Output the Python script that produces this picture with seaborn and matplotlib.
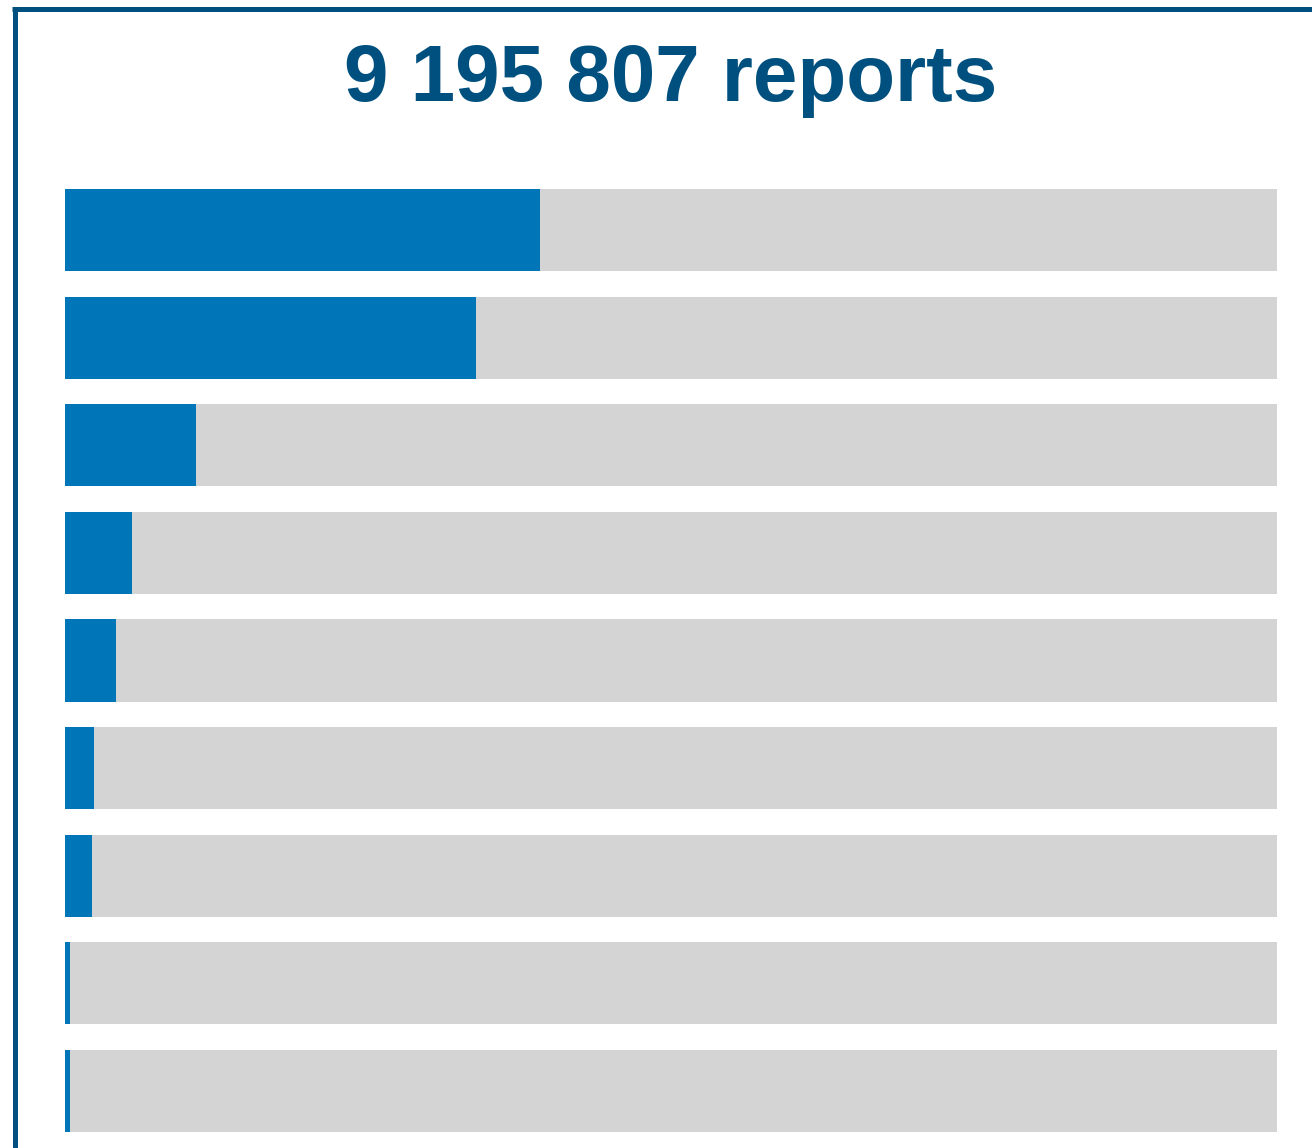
import matplotlib
matplotlib.use("Agg")
import matplotlib.pyplot as plt
import seaborn as sns
import pandas as pd
from matplotlib.lines import Line2D

# Data
categories = ["A", "B", "C", "D", "E", "F", "G", "H", "I"]
shares = [39.2, 33.9, 10.8, 5.5, 4.2, 2.4, 2.2, 0.4, 0.4]
totals = [100] * len(categories)
title_text = "9 195 807 reports"

df = pd.DataFrame({"category": categories, "share": shares, "total": totals})

sns.set_theme(style="white")
plt.rcParams["font.family"] = ["Liberation Sans", "DejaVu Sans"]

W, H = 1312, 1148
fig = plt.figure(figsize=(W / 100, H / 100), dpi=100)
fig.patch.set_facecolor("white")

# axes placement in pixels
left, right = 65, 1277
top, bottom = 176.2, 1144.8
ax = fig.add_axes([left / W, 1 - bottom / H, (right - left) / W, (bottom - top) / H])

sns.barplot(data=df, y="category", x="total", color="#d4d4d4", width=0.762,
            saturation=1, ax=ax, orient="h", linewidth=0)
sns.barplot(data=df, y="category", x="share", color="#0075b8", width=0.762,
            saturation=1, ax=ax, orient="h", linewidth=0)

ax.set_xlim(0, 100)
ax.set_ylim(len(categories) - 0.5, -0.5)
ax.set_xlabel("")
ax.set_ylabel("")
ax.set_xticks([])
ax.set_yticks([])
for s in ax.spines.values():
    s.set_visible(False)
ax.set_facecolor("none")

# frame lines (top and left)
border = "#00507f"
lw = 5 * 72 / 100
fig.add_artist(Line2D([14.5 / W, 14.5 / W], [0, 1 - 6.5 / H], transform=fig.transFigure,
                      color=border, lw=lw, solid_capstyle="butt"))
fig.add_artist(Line2D([12 / W, 1], [1 - 8.5 / H, 1 - 8.5 / H], transform=fig.transFigure,
                      color=border, lw=lw, solid_capstyle="butt"))

fig.text(671 / W, 1 - 80 / H, title_text, ha="center", va="center",
         fontsize=57.5, fontweight="bold", color="#00507f")

fig.savefig("out.png", dpi=100)
